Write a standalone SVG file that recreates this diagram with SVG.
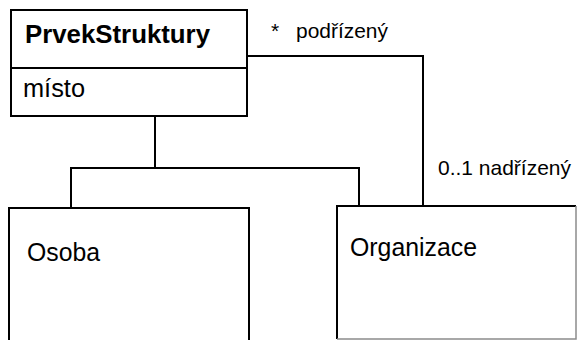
<svg xmlns="http://www.w3.org/2000/svg" width="577" height="340" viewBox="0 0 577 340">
  <style>
    .box { fill: #ffffff; stroke: #000000; stroke-width: 2; }
    .line { fill: none; stroke: #000000; stroke-width: 2; }
    .edge { fill: none; stroke: #8c8c8c; stroke-width: 1.5; }
    .t { font-family: "Liberation Sans", Arial, sans-serif; fill: #000000; }
    .title { font-size: 25px; font-weight: bold; }
    .name { font-size: 25px; }
    .role { font-size: 21px; }
  </style>
  <rect width="577" height="340" fill="#ffffff"/>

  <!-- connectors: association and generalization tree -->
  <g id="connectors">
    <polyline class="line" points="247,56 423,56 423,206"/>
    <polyline class="line" points="155,116 155,168"/>
    <polyline class="line" points="71,208 71,168 359,168 359,209"/>
  </g>

  <g id="prvekStruktury">
    <rect class="box" x="11" y="10" width="236" height="106"/>
    <line class="line" x1="11" y1="68" x2="247" y2="68"/>
    <text class="t title" x="25" y="43" textLength="185" lengthAdjust="spacingAndGlyphs">PrvekStruktury</text>
    <text class="t name" x="23" y="97" textLength="62" lengthAdjust="spacingAndGlyphs">místo</text>
  </g>

  <g id="osoba">
    <rect class="box" x="9" y="208" width="240" height="140"/>
    <text class="t name" x="27" y="261" textLength="73" lengthAdjust="spacingAndGlyphs">Osoba</text>
  </g>

  <g id="organizace">
    <rect x="337" y="206" width="239" height="133" fill="#ffffff"/>
    <polyline class="line" points="337,339 337,206 576,206"/>
    <polyline class="edge" points="576,206 576,339 337,339"/>
    <text class="t name" x="350" y="256" textLength="127" lengthAdjust="spacingAndGlyphs">Organizace</text>
  </g>

  <!-- association end labels -->
  <g id="labels">
    <text class="t role" x="271" y="38">*</text>
    <text class="t role" x="296" y="38" textLength="92" lengthAdjust="spacingAndGlyphs">podřízený</text>
    <text class="t role" x="438" y="175" textLength="133" lengthAdjust="spacingAndGlyphs">0..1 nadřízený</text>
  </g>
</svg>
